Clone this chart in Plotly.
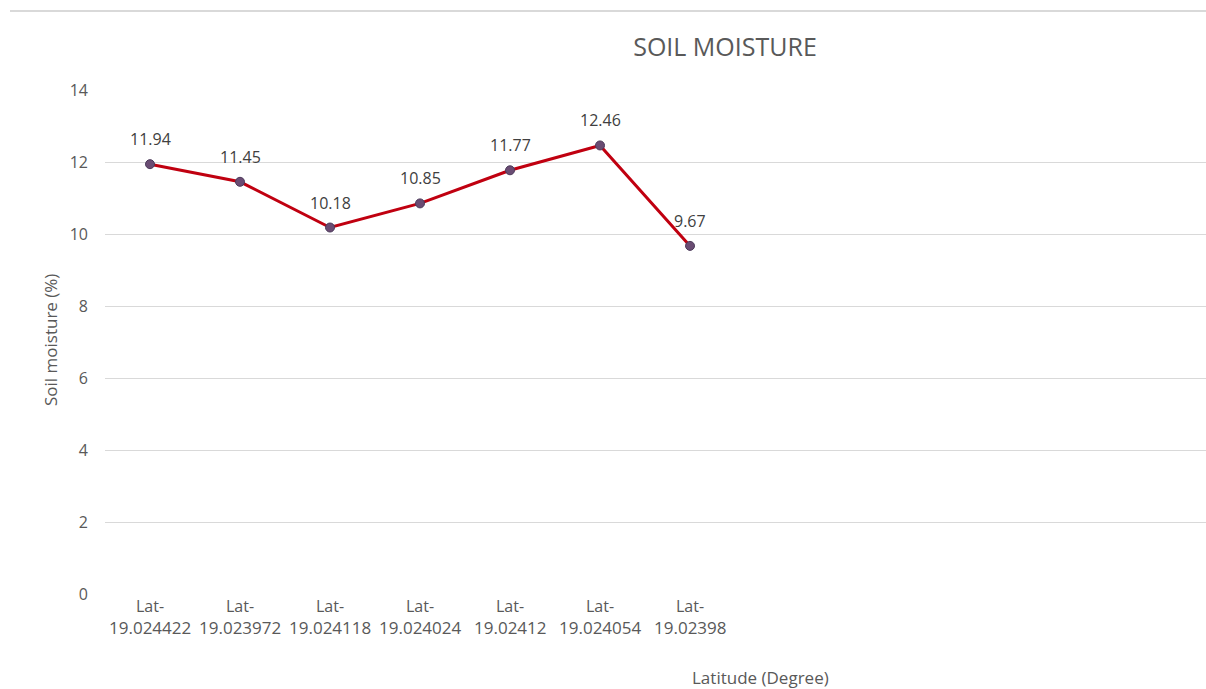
import plotly.graph_objects as go

lat_prefix = ["Lat-", "Lat-", "Lat-", "Lat-", "Lat-", "Lat-", "Lat-"]
latitudes = ["19.024422", "19.023972", "19.024118", "19.024024", "19.02412", "19.024054", "19.02398"]
moisture = [11.94, 11.45, 10.18, 10.85, 11.77, 12.46, 9.67]
labels = ["11.94", "11.45", "10.18", "10.85", "11.77", "12.46", "9.67"]
y_ticks = [0, 2, 4, 6, 8, 10, 12, 14]

xpos = list(range(len(latitudes)))
FONT = "'Open Sans', Lato, sans-serif"
GREY = "#595959"

# plot area in page pixels
PL, PT, PW, PH = 105, 90, 1101, 504
def py(page_y):
    return (PT + PH - page_y) / PH
def px(page_x):
    return (page_x - PL) / PW

fig = go.Figure()
fig.add_trace(go.Scatter(
    x=xpos, y=moisture, mode="lines+markers",
    line=dict(color="#C00010", width=3),
    marker=dict(size=9, color="#6A4C73", line=dict(color="#4B3A5A", width=1)),
    showlegend=False, hoverinfo="skip"))

for xi, yi, t in zip(xpos, moisture, labels):
    fig.add_annotation(x=xi, y=yi, text=t, showarrow=False, yshift=25,
                       font=dict(family=FONT, size=16, color="#404040"))

for xi, pre, lat in zip(xpos, lat_prefix, latitudes):
    fig.add_annotation(x=xi, xref="x", yref="paper", y=py(606), text=pre,
                       showarrow=False, yanchor="middle",
                       font=dict(family=FONT, size=16, color=GREY))
    fig.add_annotation(x=xi, xref="x", yref="paper", y=py(627), text=lat,
                       showarrow=False, yanchor="middle",
                       font=dict(family=FONT, size=17, color=GREY))

W, H = 1206, 689
fig.update_layout(
    width=W, height=H,
    margin=dict(l=PL, r=0, t=PT, b=H - PT - PH),
    paper_bgcolor="white", plot_bgcolor="white",
    font=dict(family=FONT, color=GREY),
    title=dict(text="SOIL MOISTURE", x=725 / W, xanchor="center", xref="container",
               y=1 - 47 / H, yanchor="middle", yref="container",
               font=dict(family=FONT, size=25, color=GREY)),
    xaxis=dict(range=[-0.5, 11.733], tickvals=xpos, showticklabels=False,
               showgrid=False, zeroline=False, showline=False, ticks=""),
    yaxis=dict(range=[0, 14], tickvals=y_ticks, showgrid=True, gridcolor="#D9D9D9",
               gridwidth=1, zeroline=False, showline=False, ticks="",
               tickfont=dict(family=FONT, size=16, color=GREY), ticklabelstandoff=16),
)

fig.add_annotation(text="Latitude (Degree)", xref="paper", yref="paper",
                   x=px(760), y=py(677), showarrow=False,
                   xanchor="center", yanchor="middle",
                   font=dict(family=FONT, size=17, color=GREY))
fig.add_annotation(text="Soil moisture (%)", xref="paper", yref="paper",
                   x=px(50), y=py(340), showarrow=False, textangle=-90,
                   xanchor="center", yanchor="middle",
                   font=dict(family=FONT, size=17, color=GREY))
fig.add_shape(type="line", xref="paper", yref="paper",
              x0=px(10), x1=1.0, y0=py(11), y1=py(11),
              line=dict(color="#D9D9D9", width=2))

fig.write_html("out.html", config={"displayModeBar": False},
               post_script="document.body.style.margin='0';document.body.style.overflow='hidden';")
